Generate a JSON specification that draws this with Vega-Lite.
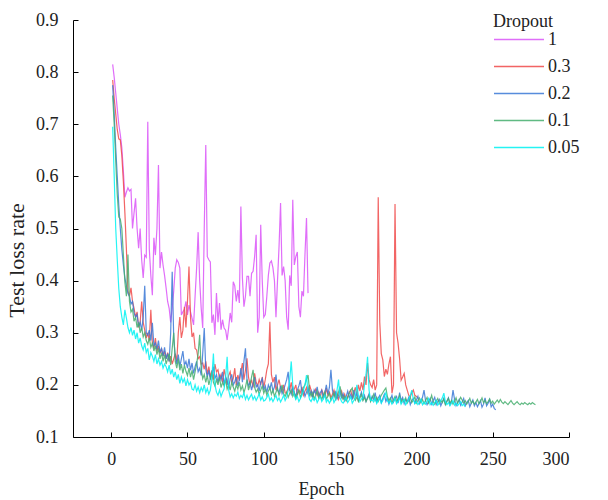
{
"$schema":"https://vega.github.io/schema/vega-lite/v6.json",
"width":496,"height":417,
"autosize":{"type":"none"},
"padding":{"left":73,"top":20,"right":39,"bottom":63},
"background":"white",
"config":{"font":"Times New Roman, Liberation Serif, serif","view":{"stroke":null},
"style":{"guide-label":{"font":"Times New Roman, Liberation Serif, serif"},"guide-title":{"font":"Times New Roman, Liberation Serif, serif"}},
"axis":{"grid":false,"domainColor":"#000","domainWidth":1,"tickColor":"#000","tickSize":-5,"labelFont":"Times New Roman, Liberation Serif, serif","labelFontSize":18,"labelColor":"#222","titleFont":"Times New Roman, Liberation Serif, serif","titleFontSize":18,"titleFontWeight":"normal","titleColor":"#222"}},
"datasets":{"p":[
{"d":"1","e":1,"v":0.815},{"d":"1","e":2,"v":0.79},{"d":"1","e":3,"v":0.76},{"d":"1","e":4,"v":0.73},{"d":"1","e":5,"v":0.70},{"d":"1","e":6,"v":0.68},{"d":"1","e":7,"v":0.655},{"d":"1","e":8,"v":0.61},{"d":"1","e":9,"v":0.56},{"d":"1","e":10,"v":0.57},{"d":"1","e":11,"v":0.578},{"d":"1","e":12,"v":0.572},{"d":"1","e":13,"v":0.575},{"d":"1","e":14,"v":0.50},{"d":"1","e":15,"v":0.53},{"d":"1","e":16,"v":0.558},{"d":"1","e":17,"v":0.50},{"d":"1","e":18,"v":0.462},{"d":"1","e":19,"v":0.50},{"d":"1","e":20,"v":0.44},{"d":"1","e":21,"v":0.405},{"d":"1","e":22,"v":0.449},{"d":"1","e":23,"v":0.445},{"d":"1","e":24,"v":0.705},{"d":"1","e":25,"v":0.46},{"d":"1","e":26,"v":0.41},{"d":"1","e":27,"v":0.372},{"d":"1","e":28,"v":0.482},{"d":"1","e":29,"v":0.449},{"d":"1","e":30,"v":0.50},{"d":"1","e":31,"v":0.622},{"d":"1","e":32,"v":0.424},{"d":"1","e":33,"v":0.455},{"d":"1","e":34,"v":0.43},{"d":"1","e":35,"v":0.41},{"d":"1","e":36,"v":0.386},{"d":"1","e":37,"v":0.36},{"d":"1","e":38,"v":0.347},{"d":"1","e":39,"v":0.32},{"d":"1","e":40,"v":0.347},{"d":"1","e":41,"v":0.38},{"d":"1","e":42,"v":0.424},{"d":"1","e":43,"v":0.44},{"d":"1","e":44,"v":0.435},{"d":"1","e":45,"v":0.424},{"d":"1","e":46,"v":0.334},{"d":"1","e":47,"v":0.34},{"d":"1","e":48,"v":0.345},{"d":"1","e":49,"v":0.36},{"d":"1","e":50,"v":0.334},{"d":"1","e":51,"v":0.353},{"d":"1","e":52,"v":0.34},{"d":"1","e":53,"v":0.328},{"d":"1","e":54,"v":0.315},{"d":"1","e":55,"v":0.37},{"d":"1","e":56,"v":0.424},{"d":"1","e":57,"v":0.493},{"d":"1","e":58,"v":0.40},{"d":"1","e":59,"v":0.347},{"d":"1","e":60,"v":0.309},{"d":"1","e":61,"v":0.50},{"d":"1","e":62,"v":0.66},{"d":"1","e":63,"v":0.446},{"d":"1","e":64,"v":0.44},{"d":"1","e":65,"v":0.436},{"d":"1","e":66,"v":0.319},{"d":"1","e":67,"v":0.335},{"d":"1","e":68,"v":0.296},{"d":"1","e":69,"v":0.376},{"d":"1","e":70,"v":0.32},{"d":"1","e":71,"v":0.357},{"d":"1","e":72,"v":0.306},{"d":"1","e":73,"v":0.325},{"d":"1","e":74,"v":0.309},{"d":"1","e":75,"v":0.305},{"d":"1","e":76,"v":0.286},{"d":"1","e":77,"v":0.31},{"d":"1","e":78,"v":0.338},{"d":"1","e":79,"v":0.32},{"d":"1","e":80,"v":0.398},{"d":"1","e":81,"v":0.39},{"d":"1","e":82,"v":0.36},{"d":"1","e":83,"v":0.382},{"d":"1","e":84,"v":0.357},{"d":"1","e":85,"v":0.542},{"d":"1","e":86,"v":0.405},{"d":"1","e":87,"v":0.35},{"d":"1","e":88,"v":0.37},{"d":"1","e":89,"v":0.408},{"d":"1","e":90,"v":0.408},{"d":"1","e":91,"v":0.37},{"d":"1","e":92,"v":0.414},{"d":"1","e":93,"v":0.418},{"d":"1","e":94,"v":0.446},{"d":"1","e":95,"v":0.488},{"d":"1","e":96,"v":0.30},{"d":"1","e":97,"v":0.33},{"d":"1","e":98,"v":0.507},{"d":"1","e":99,"v":0.40},{"d":"1","e":100,"v":0.33},{"d":"1","e":101,"v":0.335},{"d":"1","e":102,"v":0.37},{"d":"1","e":103,"v":0.41},{"d":"1","e":104,"v":0.434},{"d":"1","e":105,"v":0.438},{"d":"1","e":106,"v":0.425},{"d":"1","e":107,"v":0.40},{"d":"1","e":108,"v":0.33},{"d":"1","e":109,"v":0.40},{"d":"1","e":110,"v":0.465},{"d":"1","e":111,"v":0.549},{"d":"1","e":112,"v":0.41},{"d":"1","e":113,"v":0.427},{"d":"1","e":114,"v":0.40},{"d":"1","e":115,"v":0.33},{"d":"1","e":116,"v":0.306},{"d":"1","e":117,"v":0.41},{"d":"1","e":118,"v":0.39},{"d":"1","e":119,"v":0.555},{"d":"1","e":120,"v":0.43},{"d":"1","e":121,"v":0.446},{"d":"1","e":122,"v":0.455},{"d":"1","e":123,"v":0.35},{"d":"1","e":124,"v":0.33},{"d":"1","e":125,"v":0.38},{"d":"1","e":126,"v":0.37},{"d":"1","e":127,"v":0.45},{"d":"1","e":128,"v":0.52},{"d":"1","e":129,"v":0.376},
{"d":"0.3","e":1,"v":0.785},{"d":"0.3","e":2,"v":0.75},{"d":"0.3","e":3,"v":0.72},{"d":"0.3","e":4,"v":0.69},{"d":"0.3","e":5,"v":0.672},{"d":"0.3","e":6,"v":0.67},{"d":"0.3","e":7,"v":0.64},{"d":"0.3","e":8,"v":0.59},{"d":"0.3","e":9,"v":0.53},{"d":"0.3","e":10,"v":0.46},{"d":"0.3","e":11,"v":0.38},{"d":"0.3","e":12,"v":0.37},{"d":"0.3","e":13,"v":0.386},{"d":"0.3","e":14,"v":0.36},{"d":"0.3","e":15,"v":0.347},{"d":"0.3","e":16,"v":0.33},{"d":"0.3","e":17,"v":0.34},{"d":"0.3","e":18,"v":0.31},{"d":"0.3","e":19,"v":0.32},{"d":"0.3","e":20,"v":0.36},{"d":"0.3","e":21,"v":0.32},{"d":"0.3","e":22,"v":0.305},{"d":"0.3","e":23,"v":0.29},{"d":"0.3","e":24,"v":0.30},{"d":"0.3","e":25,"v":0.285},{"d":"0.3","e":26,"v":0.344},{"d":"0.3","e":27,"v":0.28},{"d":"0.3","e":28,"v":0.27},{"d":"0.3","e":29,"v":0.29},{"d":"0.3","e":30,"v":0.265},{"d":"0.3","e":31,"v":0.275},{"d":"0.3","e":32,"v":0.26},{"d":"0.3","e":33,"v":0.27},{"d":"0.3","e":34,"v":0.255},{"d":"0.3","e":35,"v":0.265},{"d":"0.3","e":36,"v":0.25},{"d":"0.3","e":37,"v":0.262},{"d":"0.3","e":38,"v":0.245},{"d":"0.3","e":39,"v":0.255},{"d":"0.3","e":40,"v":0.24},{"d":"0.3","e":41,"v":0.25},{"d":"0.3","e":42,"v":0.26},{"d":"0.3","e":43,"v":0.245},{"d":"0.3","e":44,"v":0.30},{"d":"0.3","e":45,"v":0.33},{"d":"0.3","e":46,"v":0.29},{"d":"0.3","e":47,"v":0.305},{"d":"0.3","e":48,"v":0.35},{"d":"0.3","e":49,"v":0.31},{"d":"0.3","e":50,"v":0.36},{"d":"0.3","e":51,"v":0.427},{"d":"0.3","e":52,"v":0.33},{"d":"0.3","e":53,"v":0.292},{"d":"0.3","e":54,"v":0.30},{"d":"0.3","e":55,"v":0.27},{"d":"0.3","e":56,"v":0.267},{"d":"0.3","e":57,"v":0.25},{"d":"0.3","e":58,"v":0.254},{"d":"0.3","e":59,"v":0.24},{"d":"0.3","e":60,"v":0.242},{"d":"0.3","e":61,"v":0.23},{"d":"0.3","e":62,"v":0.245},{"d":"0.3","e":63,"v":0.22},{"d":"0.3","e":64,"v":0.235},{"d":"0.3","e":65,"v":0.215},{"d":"0.3","e":66,"v":0.228},{"d":"0.3","e":67,"v":0.21},{"d":"0.3","e":68,"v":0.24},{"d":"0.3","e":69,"v":0.225},{"d":"0.3","e":70,"v":0.229},{"d":"0.3","e":71,"v":0.212},{"d":"0.3","e":72,"v":0.22},{"d":"0.3","e":73,"v":0.205},{"d":"0.3","e":74,"v":0.23},{"d":"0.3","e":75,"v":0.215},{"d":"0.3","e":76,"v":0.2},{"d":"0.3","e":77,"v":0.218},{"d":"0.3","e":78,"v":0.225},{"d":"0.3","e":79,"v":0.205},{"d":"0.3","e":80,"v":0.212},{"d":"0.3","e":81,"v":0.232},{"d":"0.3","e":82,"v":0.2},{"d":"0.3","e":83,"v":0.219},{"d":"0.3","e":84,"v":0.208},{"d":"0.3","e":85,"v":0.225},{"d":"0.3","e":86,"v":0.242},{"d":"0.3","e":87,"v":0.21},{"d":"0.3","e":88,"v":0.228},{"d":"0.3","e":89,"v":0.251},{"d":"0.3","e":90,"v":0.215},{"d":"0.3","e":91,"v":0.2},{"d":"0.3","e":92,"v":0.21},{"d":"0.3","e":93,"v":0.195},{"d":"0.3","e":94,"v":0.222},{"d":"0.3","e":95,"v":0.205},{"d":"0.3","e":96,"v":0.198},{"d":"0.3","e":97,"v":0.21},{"d":"0.3","e":98,"v":0.2},{"d":"0.3","e":99,"v":0.215},{"d":"0.3","e":100,"v":0.195},{"d":"0.3","e":101,"v":0.21},{"d":"0.3","e":102,"v":0.229},{"d":"0.3","e":103,"v":0.24},{"d":"0.3","e":104,"v":0.321},{"d":"0.3","e":105,"v":0.22},{"d":"0.3","e":106,"v":0.205},{"d":"0.3","e":107,"v":0.215},{"d":"0.3","e":108,"v":0.19},{"d":"0.3","e":109,"v":0.2},{"d":"0.3","e":110,"v":0.21},{"d":"0.3","e":111,"v":0.195},{"d":"0.3","e":112,"v":0.188},{"d":"0.3","e":113,"v":0.2},{"d":"0.3","e":114,"v":0.185},{"d":"0.3","e":115,"v":0.184},{"d":"0.3","e":116,"v":0.195},{"d":"0.3","e":117,"v":0.19},{"d":"0.3","e":118,"v":0.205},{"d":"0.3","e":119,"v":0.185},{"d":"0.3","e":120,"v":0.192},{"d":"0.3","e":121,"v":0.2},{"d":"0.3","e":122,"v":0.18},{"d":"0.3","e":123,"v":0.19},{"d":"0.3","e":124,"v":0.185},{"d":"0.3","e":125,"v":0.196},{"d":"0.3","e":126,"v":0.18},{"d":"0.3","e":127,"v":0.188},{"d":"0.3","e":128,"v":0.195},{"d":"0.3","e":129,"v":0.182},{"d":"0.3","e":130,"v":0.2},{"d":"0.3","e":131,"v":0.19},{"d":"0.3","e":132,"v":0.178},{"d":"0.3","e":133,"v":0.187},{"d":"0.3","e":134,"v":0.192},{"d":"0.3","e":135,"v":0.18},{"d":"0.3","e":136,"v":0.186},{"d":"0.3","e":137,"v":0.175},{"d":"0.3","e":138,"v":0.19},{"d":"0.3","e":139,"v":0.183},{"d":"0.3","e":140,"v":0.178},{"d":"0.3","e":141,"v":0.194},{"d":"0.3","e":142,"v":0.18},{"d":"0.3","e":143,"v":0.186},{"d":"0.3","e":144,"v":0.175},{"d":"0.3","e":145,"v":0.182},{"d":"0.3","e":146,"v":0.19},{"d":"0.3","e":147,"v":0.177},{"d":"0.3","e":148,"v":0.185},{"d":"0.3","e":149,"v":0.172},{"d":"0.3","e":150,"v":0.18},{"d":"0.3","e":151,"v":0.188},{"d":"0.3","e":152,"v":0.175},{"d":"0.3","e":153,"v":0.182},{"d":"0.3","e":154,"v":0.17},{"d":"0.3","e":155,"v":0.178},{"d":"0.3","e":156,"v":0.186},{"d":"0.3","e":157,"v":0.19},{"d":"0.3","e":158,"v":0.176},{"d":"0.3","e":159,"v":0.185},{"d":"0.3","e":160,"v":0.195},{"d":"0.3","e":161,"v":0.18},{"d":"0.3","e":162,"v":0.2},{"d":"0.3","e":163,"v":0.188},{"d":"0.3","e":164,"v":0.205},{"d":"0.3","e":165,"v":0.19},{"d":"0.3","e":166,"v":0.216},{"d":"0.3","e":167,"v":0.2},{"d":"0.3","e":168,"v":0.242},{"d":"0.3","e":169,"v":0.21},{"d":"0.3","e":170,"v":0.2},{"d":"0.3","e":171,"v":0.195},{"d":"0.3","e":172,"v":0.21},{"d":"0.3","e":173,"v":0.19},{"d":"0.3","e":174,"v":0.2},{"d":"0.3","e":175,"v":0.56},{"d":"0.3","e":176,"v":0.32},{"d":"0.3","e":177,"v":0.26},{"d":"0.3","e":178,"v":0.248},{"d":"0.3","e":179,"v":0.216},{"d":"0.3","e":180,"v":0.23},{"d":"0.3","e":181,"v":0.22},{"d":"0.3","e":182,"v":0.24},{"d":"0.3","e":183,"v":0.254},{"d":"0.3","e":184,"v":0.184},{"d":"0.3","e":185,"v":0.2},{"d":"0.3","e":186,"v":0.547},{"d":"0.3","e":187,"v":0.3},{"d":"0.3","e":188,"v":0.28},{"d":"0.3","e":189,"v":0.25},{"d":"0.3","e":190,"v":0.209},{"d":"0.3","e":191,"v":0.215},{"d":"0.3","e":192,"v":0.222},{"d":"0.3","e":193,"v":0.2},{"d":"0.3","e":194,"v":0.19},{"d":"0.3","e":195,"v":0.18},{"d":"0.3","e":196,"v":0.177},{"d":"0.3","e":197,"v":0.185},{"d":"0.3","e":198,"v":0.19},{"d":"0.3","e":199,"v":0.18},{"d":"0.3","e":200,"v":0.178},{"d":"0.3","e":201,"v":0.175},
{"d":"0.2","e":1,"v":0.775},{"d":"0.2","e":2,"v":0.72},{"d":"0.2","e":3,"v":0.655},{"d":"0.2","e":4,"v":0.6},{"d":"0.2","e":5,"v":0.545},{"d":"0.2","e":6,"v":0.5},{"d":"0.2","e":7,"v":0.46},{"d":"0.2","e":8,"v":0.43},{"d":"0.2","e":9,"v":0.405},{"d":"0.2","e":10,"v":0.39},{"d":"0.2","e":11,"v":0.375},{"d":"0.2","e":12,"v":0.37},{"d":"0.2","e":13,"v":0.355},{"d":"0.2","e":14,"v":0.36},{"d":"0.2","e":15,"v":0.338},{"d":"0.2","e":16,"v":0.33},{"d":"0.2","e":17,"v":0.335},{"d":"0.2","e":18,"v":0.312},{"d":"0.2","e":19,"v":0.32},{"d":"0.2","e":20,"v":0.305},{"d":"0.2","e":21,"v":0.33},{"d":"0.2","e":22,"v":0.39},{"d":"0.2","e":23,"v":0.3},{"d":"0.2","e":24,"v":0.295},{"d":"0.2","e":25,"v":0.305},{"d":"0.2","e":26,"v":0.285},{"d":"0.2","e":27,"v":0.319},{"d":"0.2","e":28,"v":0.275},{"d":"0.2","e":29,"v":0.28},{"d":"0.2","e":30,"v":0.268},{"d":"0.2","e":31,"v":0.285},{"d":"0.2","e":32,"v":0.262},{"d":"0.2","e":33,"v":0.27},{"d":"0.2","e":34,"v":0.255},{"d":"0.2","e":35,"v":0.272},{"d":"0.2","e":36,"v":0.25},{"d":"0.2","e":37,"v":0.26},{"d":"0.2","e":38,"v":0.245},{"d":"0.2","e":39,"v":0.3},{"d":"0.2","e":40,"v":0.417},{"d":"0.2","e":41,"v":0.29},{"d":"0.2","e":42,"v":0.255},{"d":"0.2","e":43,"v":0.24},{"d":"0.2","e":44,"v":0.258},{"d":"0.2","e":45,"v":0.235},{"d":"0.2","e":46,"v":0.25},{"d":"0.2","e":47,"v":0.265},{"d":"0.2","e":48,"v":0.238},{"d":"0.2","e":49,"v":0.245},{"d":"0.2","e":50,"v":0.232},{"d":"0.2","e":51,"v":0.25},{"d":"0.2","e":52,"v":0.228},{"d":"0.2","e":53,"v":0.242},{"d":"0.2","e":54,"v":0.222},{"d":"0.2","e":55,"v":0.235},{"d":"0.2","e":56,"v":0.245},{"d":"0.2","e":57,"v":0.225},{"d":"0.2","e":58,"v":0.232},{"d":"0.2","e":59,"v":0.218},{"d":"0.2","e":60,"v":0.26},{"d":"0.2","e":61,"v":0.309},{"d":"0.2","e":62,"v":0.23},{"d":"0.2","e":63,"v":0.215},{"d":"0.2","e":64,"v":0.228},{"d":"0.2","e":65,"v":0.21},{"d":"0.2","e":66,"v":0.222},{"d":"0.2","e":67,"v":0.235},{"d":"0.2","e":68,"v":0.212},{"d":"0.2","e":69,"v":0.22},{"d":"0.2","e":70,"v":0.205},{"d":"0.2","e":71,"v":0.218},{"d":"0.2","e":72,"v":0.21},{"d":"0.2","e":73,"v":0.225},{"d":"0.2","e":74,"v":0.2},{"d":"0.2","e":75,"v":0.215},{"d":"0.2","e":76,"v":0.208},{"d":"0.2","e":77,"v":0.195},{"d":"0.2","e":78,"v":0.212},{"d":"0.2","e":79,"v":0.22},{"d":"0.2","e":80,"v":0.2},{"d":"0.2","e":81,"v":0.206},{"d":"0.2","e":82,"v":0.215},{"d":"0.2","e":83,"v":0.198},{"d":"0.2","e":84,"v":0.21},{"d":"0.2","e":85,"v":0.232},{"d":"0.2","e":86,"v":0.205},{"d":"0.2","e":87,"v":0.245},{"d":"0.2","e":88,"v":0.27},{"d":"0.2","e":89,"v":0.21},{"d":"0.2","e":90,"v":0.198},{"d":"0.2","e":91,"v":0.205},{"d":"0.2","e":92,"v":0.19},{"d":"0.2","e":93,"v":0.202},{"d":"0.2","e":94,"v":0.215},{"d":"0.2","e":95,"v":0.196},{"d":"0.2","e":96,"v":0.2},{"d":"0.2","e":97,"v":0.188},{"d":"0.2","e":98,"v":0.205},{"d":"0.2","e":99,"v":0.212},{"d":"0.2","e":100,"v":0.19},{"d":"0.2","e":101,"v":0.198},{"d":"0.2","e":102,"v":0.185},{"d":"0.2","e":103,"v":0.2},{"d":"0.2","e":104,"v":0.192},{"d":"0.2","e":105,"v":0.205},{"d":"0.2","e":106,"v":0.188},{"d":"0.2","e":107,"v":0.196},{"d":"0.2","e":108,"v":0.22},{"d":"0.2","e":109,"v":0.19},{"d":"0.2","e":110,"v":0.185},{"d":"0.2","e":111,"v":0.198},{"d":"0.2","e":112,"v":0.183},{"d":"0.2","e":113,"v":0.19},{"d":"0.2","e":114,"v":0.2},{"d":"0.2","e":115,"v":0.21},{"d":"0.2","e":116,"v":0.225},{"d":"0.2","e":117,"v":0.19},{"d":"0.2","e":118,"v":0.182},{"d":"0.2","e":119,"v":0.195},{"d":"0.2","e":120,"v":0.185},{"d":"0.2","e":121,"v":0.178},{"d":"0.2","e":122,"v":0.19},{"d":"0.2","e":123,"v":0.198},{"d":"0.2","e":124,"v":0.209},{"d":"0.2","e":125,"v":0.185},{"d":"0.2","e":126,"v":0.19},{"d":"0.2","e":127,"v":0.178},{"d":"0.2","e":128,"v":0.186},{"d":"0.2","e":129,"v":0.194},{"d":"0.2","e":130,"v":0.18},{"d":"0.2","e":131,"v":0.188},{"d":"0.2","e":132,"v":0.176},{"d":"0.2","e":133,"v":0.19},{"d":"0.2","e":134,"v":0.183},{"d":"0.2","e":135,"v":0.196},{"d":"0.2","e":136,"v":0.178},{"d":"0.2","e":137,"v":0.185},{"d":"0.2","e":138,"v":0.19},{"d":"0.2","e":139,"v":0.175},{"d":"0.2","e":140,"v":0.184},{"d":"0.2","e":141,"v":0.2},{"d":"0.2","e":142,"v":0.182},{"d":"0.2","e":143,"v":0.195},{"d":"0.2","e":144,"v":0.229},{"d":"0.2","e":145,"v":0.19},{"d":"0.2","e":146,"v":0.178},{"d":"0.2","e":147,"v":0.186},{"d":"0.2","e":148,"v":0.173},{"d":"0.2","e":149,"v":0.18},{"d":"0.2","e":150,"v":0.19},{"d":"0.2","e":151,"v":0.176},{"d":"0.2","e":152,"v":0.183},{"d":"0.2","e":153,"v":0.17},{"d":"0.2","e":154,"v":0.178},{"d":"0.2","e":155,"v":0.188},{"d":"0.2","e":156,"v":0.175},{"d":"0.2","e":157,"v":0.182},{"d":"0.2","e":158,"v":0.172},{"d":"0.2","e":159,"v":0.19},{"d":"0.2","e":160,"v":0.176},{"d":"0.2","e":161,"v":0.184},{"d":"0.2","e":162,"v":0.17},{"d":"0.2","e":163,"v":0.178},{"d":"0.2","e":164,"v":0.186},{"d":"0.2","e":165,"v":0.172},{"d":"0.2","e":166,"v":0.18},{"d":"0.2","e":167,"v":0.168},{"d":"0.2","e":168,"v":0.176},{"d":"0.2","e":169,"v":0.183},{"d":"0.2","e":170,"v":0.17},{"d":"0.2","e":171,"v":0.178},{"d":"0.2","e":172,"v":0.172},{"d":"0.2","e":173,"v":0.185},{"d":"0.2","e":174,"v":0.168},{"d":"0.2","e":175,"v":0.175},{"d":"0.2","e":176,"v":0.18},{"d":"0.2","e":177,"v":0.166},{"d":"0.2","e":178,"v":0.174},{"d":"0.2","e":179,"v":0.182},{"d":"0.2","e":180,"v":0.168},{"d":"0.2","e":181,"v":0.175},{"d":"0.2","e":182,"v":0.163},{"d":"0.2","e":183,"v":0.172},{"d":"0.2","e":184,"v":0.18},{"d":"0.2","e":185,"v":0.167},{"d":"0.2","e":186,"v":0.174},{"d":"0.2","e":187,"v":0.178},{"d":"0.2","e":188,"v":0.165},{"d":"0.2","e":189,"v":0.185},{"d":"0.2","e":190,"v":0.17},{"d":"0.2","e":191,"v":0.176},{"d":"0.2","e":192,"v":0.164},{"d":"0.2","e":193,"v":0.172},{"d":"0.2","e":194,"v":0.168},{"d":"0.2","e":195,"v":0.176},{"d":"0.2","e":196,"v":0.162},{"d":"0.2","e":197,"v":0.17},{"d":"0.2","e":198,"v":0.174},{"d":"0.2","e":199,"v":0.165},{"d":"0.2","e":200,"v":0.171},{"d":"0.2","e":201,"v":0.178},{"d":"0.2","e":202,"v":0.164},{"d":"0.2","e":203,"v":0.17},{"d":"0.2","e":204,"v":0.176},{"d":"0.2","e":205,"v":0.19},{"d":"0.2","e":206,"v":0.17},{"d":"0.2","e":207,"v":0.162},{"d":"0.2","e":208,"v":0.168},{"d":"0.2","e":209,"v":0.174},{"d":"0.2","e":210,"v":0.163},{"d":"0.2","e":211,"v":0.17},{"d":"0.2","e":212,"v":0.176},{"d":"0.2","e":213,"v":0.162},{"d":"0.2","e":214,"v":0.168},{"d":"0.2","e":215,"v":0.172},{"d":"0.2","e":216,"v":0.16},{"d":"0.2","e":217,"v":0.167},{"d":"0.2","e":218,"v":0.174},{"d":"0.2","e":219,"v":0.163},{"d":"0.2","e":220,"v":0.169},{"d":"0.2","e":221,"v":0.175},{"d":"0.2","e":222,"v":0.162},{"d":"0.2","e":223,"v":0.168},{"d":"0.2","e":224,"v":0.19},{"d":"0.2","e":225,"v":0.172},{"d":"0.2","e":226,"v":0.16},{"d":"0.2","e":227,"v":0.166},{"d":"0.2","e":228,"v":0.172},{"d":"0.2","e":229,"v":0.161},{"d":"0.2","e":230,"v":0.167},{"d":"0.2","e":231,"v":0.174},{"d":"0.2","e":232,"v":0.16},{"d":"0.2","e":233,"v":0.166},{"d":"0.2","e":234,"v":0.17},{"d":"0.2","e":235,"v":0.158},{"d":"0.2","e":236,"v":0.165},{"d":"0.2","e":237,"v":0.171},{"d":"0.2","e":238,"v":0.16},{"d":"0.2","e":239,"v":0.166},{"d":"0.2","e":240,"v":0.158},{"d":"0.2","e":241,"v":0.164},{"d":"0.2","e":242,"v":0.17},{"d":"0.2","e":243,"v":0.157},{"d":"0.2","e":244,"v":0.163},{"d":"0.2","e":245,"v":0.175},{"d":"0.2","e":246,"v":0.16},{"d":"0.2","e":247,"v":0.165},{"d":"0.2","e":248,"v":0.172},{"d":"0.2","e":249,"v":0.158},{"d":"0.2","e":250,"v":0.163},{"d":"0.2","e":251,"v":0.155},{"d":"0.2","e":252,"v":0.152},
{"d":"0.1","e":1,"v":0.755},{"d":"0.1","e":2,"v":0.7},{"d":"0.1","e":3,"v":0.63},{"d":"0.1","e":4,"v":0.565},{"d":"0.1","e":5,"v":0.522},{"d":"0.1","e":6,"v":0.518},{"d":"0.1","e":7,"v":0.5},{"d":"0.1","e":8,"v":0.45},{"d":"0.1","e":9,"v":0.397},{"d":"0.1","e":10,"v":0.37},{"d":"0.1","e":11,"v":0.45},{"d":"0.1","e":12,"v":0.36},{"d":"0.1","e":13,"v":0.34},{"d":"0.1","e":14,"v":0.345},{"d":"0.1","e":15,"v":0.322},{"d":"0.1","e":16,"v":0.33},{"d":"0.1","e":17,"v":0.31},{"d":"0.1","e":18,"v":0.32},{"d":"0.1","e":19,"v":0.3},{"d":"0.1","e":20,"v":0.31},{"d":"0.1","e":21,"v":0.292},{"d":"0.1","e":22,"v":0.3},{"d":"0.1","e":23,"v":0.285},{"d":"0.1","e":24,"v":0.278},{"d":"0.1","e":25,"v":0.29},{"d":"0.1","e":26,"v":0.272},{"d":"0.1","e":27,"v":0.28},{"d":"0.1","e":28,"v":0.265},{"d":"0.1","e":29,"v":0.275},{"d":"0.1","e":30,"v":0.258},{"d":"0.1","e":31,"v":0.27},{"d":"0.1","e":32,"v":0.25},{"d":"0.1","e":33,"v":0.262},{"d":"0.1","e":34,"v":0.245},{"d":"0.1","e":35,"v":0.258},{"d":"0.1","e":36,"v":0.24},{"d":"0.1","e":37,"v":0.25},{"d":"0.1","e":38,"v":0.26},{"d":"0.1","e":39,"v":0.238},{"d":"0.1","e":40,"v":0.27},{"d":"0.1","e":41,"v":0.3},{"d":"0.1","e":42,"v":0.245},{"d":"0.1","e":43,"v":0.232},{"d":"0.1","e":44,"v":0.25},{"d":"0.1","e":45,"v":0.228},{"d":"0.1","e":46,"v":0.24},{"d":"0.1","e":47,"v":0.222},{"d":"0.1","e":48,"v":0.238},{"d":"0.1","e":49,"v":0.226},{"d":"0.1","e":50,"v":0.218},{"d":"0.1","e":51,"v":0.232},{"d":"0.1","e":52,"v":0.215},{"d":"0.1","e":53,"v":0.228},{"d":"0.1","e":54,"v":0.21},{"d":"0.1","e":55,"v":0.225},{"d":"0.1","e":56,"v":0.24},{"d":"0.1","e":57,"v":0.26},{"d":"0.1","e":58,"v":0.296},{"d":"0.1","e":59,"v":0.23},{"d":"0.1","e":60,"v":0.212},{"d":"0.1","e":61,"v":0.22},{"d":"0.1","e":62,"v":0.205},{"d":"0.1","e":63,"v":0.218},{"d":"0.1","e":64,"v":0.2},{"d":"0.1","e":65,"v":0.212},{"d":"0.1","e":66,"v":0.225},{"d":"0.1","e":67,"v":0.205},{"d":"0.1","e":68,"v":0.198},{"d":"0.1","e":69,"v":0.21},{"d":"0.1","e":70,"v":0.2},{"d":"0.1","e":71,"v":0.215},{"d":"0.1","e":72,"v":0.195},{"d":"0.1","e":73,"v":0.205},{"d":"0.1","e":74,"v":0.198},{"d":"0.1","e":75,"v":0.21},{"d":"0.1","e":76,"v":0.192},{"d":"0.1","e":77,"v":0.2},{"d":"0.1","e":78,"v":0.19},{"d":"0.1","e":79,"v":0.205},{"d":"0.1","e":80,"v":0.196},{"d":"0.1","e":81,"v":0.188},{"d":"0.1","e":82,"v":0.2},{"d":"0.1","e":83,"v":0.192},{"d":"0.1","e":84,"v":0.205},{"d":"0.1","e":85,"v":0.19},{"d":"0.1","e":86,"v":0.198},{"d":"0.1","e":87,"v":0.185},{"d":"0.1","e":88,"v":0.195},{"d":"0.1","e":89,"v":0.21},{"d":"0.1","e":90,"v":0.19},{"d":"0.1","e":91,"v":0.2},{"d":"0.1","e":92,"v":0.215},{"d":"0.1","e":93,"v":0.229},{"d":"0.1","e":94,"v":0.195},{"d":"0.1","e":95,"v":0.186},{"d":"0.1","e":96,"v":0.192},{"d":"0.1","e":97,"v":0.182},{"d":"0.1","e":98,"v":0.19},{"d":"0.1","e":99,"v":0.198},{"d":"0.1","e":100,"v":0.184},{"d":"0.1","e":101,"v":0.192},{"d":"0.1","e":102,"v":0.18},{"d":"0.1","e":103,"v":0.188},{"d":"0.1","e":104,"v":0.195},{"d":"0.1","e":105,"v":0.182},{"d":"0.1","e":106,"v":0.19},{"d":"0.1","e":107,"v":0.178},{"d":"0.1","e":108,"v":0.186},{"d":"0.1","e":109,"v":0.194},{"d":"0.1","e":110,"v":0.18},{"d":"0.1","e":111,"v":0.188},{"d":"0.1","e":112,"v":0.2},{"d":"0.1","e":113,"v":0.183},{"d":"0.1","e":114,"v":0.178},{"d":"0.1","e":115,"v":0.186},{"d":"0.1","e":116,"v":0.176},{"d":"0.1","e":117,"v":0.184},{"d":"0.1","e":118,"v":0.19},{"d":"0.1","e":119,"v":0.178},{"d":"0.1","e":120,"v":0.185},{"d":"0.1","e":121,"v":0.174},{"d":"0.1","e":122,"v":0.182},{"d":"0.1","e":123,"v":0.19},{"d":"0.1","e":124,"v":0.176},{"d":"0.1","e":125,"v":0.183},{"d":"0.1","e":126,"v":0.195},{"d":"0.1","e":127,"v":0.2},{"d":"0.1","e":128,"v":0.21},{"d":"0.1","e":129,"v":0.219},{"d":"0.1","e":130,"v":0.19},{"d":"0.1","e":131,"v":0.178},{"d":"0.1","e":132,"v":0.185},{"d":"0.1","e":133,"v":0.173},{"d":"0.1","e":134,"v":0.18},{"d":"0.1","e":135,"v":0.188},{"d":"0.1","e":136,"v":0.174},{"d":"0.1","e":137,"v":0.18},{"d":"0.1","e":138,"v":0.172},{"d":"0.1","e":139,"v":0.18},{"d":"0.1","e":140,"v":0.187},{"d":"0.1","e":141,"v":0.173},{"d":"0.1","e":142,"v":0.178},{"d":"0.1","e":143,"v":0.184},{"d":"0.1","e":144,"v":0.17},{"d":"0.1","e":145,"v":0.177},{"d":"0.1","e":146,"v":0.185},{"d":"0.1","e":147,"v":0.172},{"d":"0.1","e":148,"v":0.178},{"d":"0.1","e":149,"v":0.186},{"d":"0.1","e":150,"v":0.197},{"d":"0.1","e":151,"v":0.18},{"d":"0.1","e":152,"v":0.172},{"d":"0.1","e":153,"v":0.178},{"d":"0.1","e":154,"v":0.17},{"d":"0.1","e":155,"v":0.176},{"d":"0.1","e":156,"v":0.183},{"d":"0.1","e":157,"v":0.19},{"d":"0.1","e":158,"v":0.194},{"d":"0.1","e":159,"v":0.175},{"d":"0.1","e":160,"v":0.17},{"d":"0.1","e":161,"v":0.177},{"d":"0.1","e":162,"v":0.168},{"d":"0.1","e":163,"v":0.175},{"d":"0.1","e":164,"v":0.182},{"d":"0.1","e":165,"v":0.17},{"d":"0.1","e":166,"v":0.176},{"d":"0.1","e":167,"v":0.168},{"d":"0.1","e":168,"v":0.174},{"d":"0.1","e":169,"v":0.18},{"d":"0.1","e":170,"v":0.168},{"d":"0.1","e":171,"v":0.175},{"d":"0.1","e":172,"v":0.182},{"d":"0.1","e":173,"v":0.17},{"d":"0.1","e":174,"v":0.176},{"d":"0.1","e":175,"v":0.168},{"d":"0.1","e":176,"v":0.174},{"d":"0.1","e":177,"v":0.18},{"d":"0.1","e":178,"v":0.185},{"d":"0.1","e":179,"v":0.19},{"d":"0.1","e":180,"v":0.194},{"d":"0.1","e":181,"v":0.178},{"d":"0.1","e":182,"v":0.17},{"d":"0.1","e":183,"v":0.175},{"d":"0.1","e":184,"v":0.166},{"d":"0.1","e":185,"v":0.172},{"d":"0.1","e":186,"v":0.178},{"d":"0.1","e":187,"v":0.168},{"d":"0.1","e":188,"v":0.173},{"d":"0.1","e":189,"v":0.18},{"d":"0.1","e":190,"v":0.166},{"d":"0.1","e":191,"v":0.172},{"d":"0.1","e":192,"v":0.168},{"d":"0.1","e":193,"v":0.175},{"d":"0.1","e":194,"v":0.165},{"d":"0.1","e":195,"v":0.17},{"d":"0.1","e":196,"v":0.176},{"d":"0.1","e":197,"v":0.166},{"d":"0.1","e":198,"v":0.171},{"d":"0.1","e":199,"v":0.177},{"d":"0.1","e":200,"v":0.165},{"d":"0.1","e":201,"v":0.17},{"d":"0.1","e":202,"v":0.175},{"d":"0.1","e":203,"v":0.166},{"d":"0.1","e":204,"v":0.172},{"d":"0.1","e":205,"v":0.164},{"d":"0.1","e":206,"v":0.17},{"d":"0.1","e":207,"v":0.176},{"d":"0.1","e":208,"v":0.165},{"d":"0.1","e":209,"v":0.17},{"d":"0.1","e":210,"v":0.18},{"d":"0.1","e":211,"v":0.168},{"d":"0.1","e":212,"v":0.163},{"d":"0.1","e":213,"v":0.169},{"d":"0.1","e":214,"v":0.174},{"d":"0.1","e":215,"v":0.164},{"d":"0.1","e":216,"v":0.17},{"d":"0.1","e":217,"v":0.166},{"d":"0.1","e":218,"v":0.173},{"d":"0.1","e":219,"v":0.162},{"d":"0.1","e":220,"v":0.168},{"d":"0.1","e":221,"v":0.174},{"d":"0.1","e":222,"v":0.165},{"d":"0.1","e":223,"v":0.17},{"d":"0.1","e":224,"v":0.163},{"d":"0.1","e":225,"v":0.168},{"d":"0.1","e":226,"v":0.175},{"d":"0.1","e":227,"v":0.165},{"d":"0.1","e":228,"v":0.17},{"d":"0.1","e":229,"v":0.176},{"d":"0.1","e":230,"v":0.171},{"d":"0.1","e":231,"v":0.165},{"d":"0.1","e":232,"v":0.17},{"d":"0.1","e":233,"v":0.163},{"d":"0.1","e":234,"v":0.168},{"d":"0.1","e":235,"v":0.174},{"d":"0.1","e":236,"v":0.165},{"d":"0.1","e":237,"v":0.169},{"d":"0.1","e":238,"v":0.163},{"d":"0.1","e":239,"v":0.167},{"d":"0.1","e":240,"v":0.172},{"d":"0.1","e":241,"v":0.164},{"d":"0.1","e":242,"v":0.168},{"d":"0.1","e":243,"v":0.175},{"d":"0.1","e":244,"v":0.166},{"d":"0.1","e":245,"v":0.17},{"d":"0.1","e":246,"v":0.164},{"d":"0.1","e":247,"v":0.168},{"d":"0.1","e":248,"v":0.173},{"d":"0.1","e":249,"v":0.165},{"d":"0.1","e":250,"v":0.169},{"d":"0.1","e":251,"v":0.163},{"d":"0.1","e":252,"v":0.167},{"d":"0.1","e":253,"v":0.171},{"d":"0.1","e":254,"v":0.166},{"d":"0.1","e":255,"v":0.172},{"d":"0.1","e":256,"v":0.167},{"d":"0.1","e":257,"v":0.164},{"d":"0.1","e":258,"v":0.168},{"d":"0.1","e":259,"v":0.165},{"d":"0.1","e":260,"v":0.162},{"d":"0.1","e":261,"v":0.166},{"d":"0.1","e":262,"v":0.17},{"d":"0.1","e":263,"v":0.165},{"d":"0.1","e":264,"v":0.162},{"d":"0.1","e":265,"v":0.165},{"d":"0.1","e":266,"v":0.168},{"d":"0.1","e":267,"v":0.164},{"d":"0.1","e":268,"v":0.162},{"d":"0.1","e":269,"v":0.165},{"d":"0.1","e":270,"v":0.163},{"d":"0.1","e":271,"v":0.166},{"d":"0.1","e":272,"v":0.164},{"d":"0.1","e":273,"v":0.162},{"d":"0.1","e":274,"v":0.165},{"d":"0.1","e":275,"v":0.163},{"d":"0.1","e":276,"v":0.166},{"d":"0.1","e":277,"v":0.164},{"d":"0.1","e":278,"v":0.162},
{"d":"0.05","e":1,"v":0.695},{"d":"0.05","e":2,"v":0.6},{"d":"0.05","e":3,"v":0.5},{"d":"0.05","e":4,"v":0.44},{"d":"0.05","e":5,"v":0.385},{"d":"0.05","e":6,"v":0.35},{"d":"0.05","e":7,"v":0.33},{"d":"0.05","e":8,"v":0.315},{"d":"0.05","e":9,"v":0.344},{"d":"0.05","e":10,"v":0.328},{"d":"0.05","e":11,"v":0.31},{"d":"0.05","e":12,"v":0.3},{"d":"0.05","e":13,"v":0.31},{"d":"0.05","e":14,"v":0.295},{"d":"0.05","e":15,"v":0.305},{"d":"0.05","e":16,"v":0.288},{"d":"0.05","e":17,"v":0.3},{"d":"0.05","e":18,"v":0.28},{"d":"0.05","e":19,"v":0.29},{"d":"0.05","e":20,"v":0.275},{"d":"0.05","e":21,"v":0.267},{"d":"0.05","e":22,"v":0.28},{"d":"0.05","e":23,"v":0.262},{"d":"0.05","e":24,"v":0.27},{"d":"0.05","e":25,"v":0.248},{"d":"0.05","e":26,"v":0.262},{"d":"0.05","e":27,"v":0.255},{"d":"0.05","e":28,"v":0.245},{"d":"0.05","e":29,"v":0.258},{"d":"0.05","e":30,"v":0.24},{"d":"0.05","e":31,"v":0.25},{"d":"0.05","e":32,"v":0.238},{"d":"0.05","e":33,"v":0.245},{"d":"0.05","e":34,"v":0.232},{"d":"0.05","e":35,"v":0.24},{"d":"0.05","e":36,"v":0.235},{"d":"0.05","e":37,"v":0.225},{"d":"0.05","e":38,"v":0.238},{"d":"0.05","e":39,"v":0.22},{"d":"0.05","e":40,"v":0.23},{"d":"0.05","e":41,"v":0.215},{"d":"0.05","e":42,"v":0.225},{"d":"0.05","e":43,"v":0.21},{"d":"0.05","e":44,"v":0.22},{"d":"0.05","e":45,"v":0.203},{"d":"0.05","e":46,"v":0.215},{"d":"0.05","e":47,"v":0.205},{"d":"0.05","e":48,"v":0.212},{"d":"0.05","e":49,"v":0.198},{"d":"0.05","e":50,"v":0.21},{"d":"0.05","e":51,"v":0.2},{"d":"0.05","e":52,"v":0.205},{"d":"0.05","e":53,"v":0.192},{"d":"0.05","e":54,"v":0.19},{"d":"0.05","e":55,"v":0.2},{"d":"0.05","e":56,"v":0.188},{"d":"0.05","e":57,"v":0.196},{"d":"0.05","e":58,"v":0.185},{"d":"0.05","e":59,"v":0.195},{"d":"0.05","e":60,"v":0.188},{"d":"0.05","e":61,"v":0.2},{"d":"0.05","e":62,"v":0.185},{"d":"0.05","e":63,"v":0.193},{"d":"0.05","e":64,"v":0.182},{"d":"0.05","e":65,"v":0.19},{"d":"0.05","e":66,"v":0.215},{"d":"0.05","e":67,"v":0.26},{"d":"0.05","e":68,"v":0.2},{"d":"0.05","e":69,"v":0.186},{"d":"0.05","e":70,"v":0.18},{"d":"0.05","e":71,"v":0.19},{"d":"0.05","e":72,"v":0.178},{"d":"0.05","e":73,"v":0.186},{"d":"0.05","e":74,"v":0.192},{"d":"0.05","e":75,"v":0.215},{"d":"0.05","e":76,"v":0.254},{"d":"0.05","e":77,"v":0.19},{"d":"0.05","e":78,"v":0.177},{"d":"0.05","e":79,"v":0.183},{"d":"0.05","e":80,"v":0.175},{"d":"0.05","e":81,"v":0.182},{"d":"0.05","e":82,"v":0.178},{"d":"0.05","e":83,"v":0.186},{"d":"0.05","e":84,"v":0.174},{"d":"0.05","e":85,"v":0.18},{"d":"0.05","e":86,"v":0.176},{"d":"0.05","e":87,"v":0.185},{"d":"0.05","e":88,"v":0.172},{"d":"0.05","e":89,"v":0.18},{"d":"0.05","e":90,"v":0.171},{"d":"0.05","e":91,"v":0.177},{"d":"0.05","e":92,"v":0.182},{"d":"0.05","e":93,"v":0.172},{"d":"0.05","e":94,"v":0.178},{"d":"0.05","e":95,"v":0.17},{"d":"0.05","e":96,"v":0.176},{"d":"0.05","e":97,"v":0.183},{"d":"0.05","e":98,"v":0.171},{"d":"0.05","e":99,"v":0.177},{"d":"0.05","e":100,"v":0.169},{"d":"0.05","e":101,"v":0.171},{"d":"0.05","e":102,"v":0.176},{"d":"0.05","e":103,"v":0.182},{"d":"0.05","e":104,"v":0.17},{"d":"0.05","e":105,"v":0.175},{"d":"0.05","e":106,"v":0.168},{"d":"0.05","e":107,"v":0.174},{"d":"0.05","e":108,"v":0.18},{"d":"0.05","e":109,"v":0.17},{"d":"0.05","e":110,"v":0.175},{"d":"0.05","e":111,"v":0.167},{"d":"0.05","e":112,"v":0.173},{"d":"0.05","e":113,"v":0.18},{"d":"0.05","e":114,"v":0.17},{"d":"0.05","e":115,"v":0.176},{"d":"0.05","e":116,"v":0.19},{"d":"0.05","e":117,"v":0.21},{"d":"0.05","e":118,"v":0.245},{"d":"0.05","e":119,"v":0.2},{"d":"0.05","e":120,"v":0.18},{"d":"0.05","e":121,"v":0.172},{"d":"0.05","e":122,"v":0.178},{"d":"0.05","e":123,"v":0.168},{"d":"0.05","e":124,"v":0.174},{"d":"0.05","e":125,"v":0.18},{"d":"0.05","e":126,"v":0.19},{"d":"0.05","e":127,"v":0.2},{"d":"0.05","e":128,"v":0.219},{"d":"0.05","e":129,"v":0.185},{"d":"0.05","e":130,"v":0.172},{"d":"0.05","e":131,"v":0.168},{"d":"0.05","e":132,"v":0.175},{"d":"0.05","e":133,"v":0.17},{"d":"0.05","e":134,"v":0.176},{"d":"0.05","e":135,"v":0.166},{"d":"0.05","e":136,"v":0.172},{"d":"0.05","e":137,"v":0.178},{"d":"0.05","e":138,"v":0.168},{"d":"0.05","e":139,"v":0.173},{"d":"0.05","e":140,"v":0.18},{"d":"0.05","e":141,"v":0.167},{"d":"0.05","e":142,"v":0.172},{"d":"0.05","e":143,"v":0.165},{"d":"0.05","e":144,"v":0.171},{"d":"0.05","e":145,"v":0.177},{"d":"0.05","e":146,"v":0.166},{"d":"0.05","e":147,"v":0.172},{"d":"0.05","e":148,"v":0.19},{"d":"0.05","e":149,"v":0.21},{"d":"0.05","e":150,"v":0.175},{"d":"0.05","e":151,"v":0.168},{"d":"0.05","e":152,"v":0.165},{"d":"0.05","e":153,"v":0.17},{"d":"0.05","e":154,"v":0.176},{"d":"0.05","e":155,"v":0.166},{"d":"0.05","e":156,"v":0.171},{"d":"0.05","e":157,"v":0.177},{"d":"0.05","e":158,"v":0.165},{"d":"0.05","e":159,"v":0.17},{"d":"0.05","e":160,"v":0.175},{"d":"0.05","e":161,"v":0.2},{"d":"0.05","e":162,"v":0.18},{"d":"0.05","e":163,"v":0.168},{"d":"0.05","e":164,"v":0.173},{"d":"0.05","e":165,"v":0.175},{"d":"0.05","e":166,"v":0.2},{"d":"0.05","e":167,"v":0.22},{"d":"0.05","e":168,"v":0.254},{"d":"0.05","e":169,"v":0.19},{"d":"0.05","e":170,"v":0.17},{"d":"0.05","e":171,"v":0.171},{"d":"0.05","e":172,"v":0.167},{"d":"0.05","e":173,"v":0.175},{"d":"0.05","e":174,"v":0.164},{"d":"0.05","e":175,"v":0.17},{"d":"0.05","e":176,"v":0.176},{"d":"0.05","e":177,"v":0.165},{"d":"0.05","e":178,"v":0.17},{"d":"0.05","e":179,"v":0.178},{"d":"0.05","e":180,"v":0.185},{"d":"0.05","e":181,"v":0.17},{"d":"0.05","e":182,"v":0.165},{"d":"0.05","e":183,"v":0.17},{"d":"0.05","e":184,"v":0.163},{"d":"0.05","e":185,"v":0.168},{"d":"0.05","e":186,"v":0.174},{"d":"0.05","e":187,"v":0.164},{"d":"0.05","e":188,"v":0.169},{"d":"0.05","e":189,"v":0.175},{"d":"0.05","e":190,"v":0.163},{"d":"0.05","e":191,"v":0.168},{"d":"0.05","e":192,"v":0.172},{"d":"0.05","e":193,"v":0.162},{"d":"0.05","e":194,"v":0.167},{"d":"0.05","e":195,"v":0.172},{"d":"0.05","e":196,"v":0.18},{"d":"0.05","e":197,"v":0.19},{"d":"0.05","e":198,"v":0.172},{"d":"0.05","e":199,"v":0.164},{"d":"0.05","e":200,"v":0.168},{"d":"0.05","e":201,"v":0.162},{"d":"0.05","e":202,"v":0.166},{"d":"0.05","e":203,"v":0.172},{"d":"0.05","e":204,"v":0.162},{"d":"0.05","e":205,"v":0.167},{"d":"0.05","e":206,"v":0.163},{"d":"0.05","e":207,"v":0.168},{"d":"0.05","e":208,"v":0.174},{"d":"0.05","e":209,"v":0.162},{"d":"0.05","e":210,"v":0.166},{"d":"0.05","e":211,"v":0.161},{"d":"0.05","e":212,"v":0.166},{"d":"0.05","e":213,"v":0.17},{"d":"0.05","e":214,"v":0.161},{"d":"0.05","e":215,"v":0.165},{"d":"0.05","e":216,"v":0.17},{"d":"0.05","e":217,"v":0.175},{"d":"0.05","e":218,"v":0.184},{"d":"0.05","e":219,"v":0.168},{"d":"0.05","e":220,"v":0.162},{"d":"0.05","e":221,"v":0.166},{"d":"0.05","e":222,"v":0.16},{"d":"0.05","e":223,"v":0.165},{"d":"0.05","e":224,"v":0.17},{"d":"0.05","e":225,"v":0.161},{"d":"0.05","e":226,"v":0.165},{"d":"0.05","e":227,"v":0.16},{"d":"0.05","e":228,"v":0.164},{"d":"0.05","e":229,"v":0.168},{"d":"0.05","e":230,"v":0.16},{"d":"0.05","e":231,"v":0.163},{"d":"0.05","e":232,"v":0.158}
]},
"data":{"name":"p"},
"mark":{"type":"line","strokeWidth":1.2,"opacity":0.85,"clip":true},
"encoding":{
"x":{"field":"e","type":"quantitative","scale":{"domain":[-25,300],"nice":false,"zero":false},"axis":{"values":[0,50,100,150,200,250,300],"title":"Epoch","labelPadding":18,"titlePadding":12}},
"y":{"field":"v","type":"quantitative","scale":{"domain":[0.1,0.9],"nice":false,"zero":false},"axis":{"values":[0.1,0.2,0.3,0.4,0.5,0.6,0.7,0.8,0.9],"format":".1f","title":"Test loss rate","labelPadding":20,"titleFontSize":22,"titleX":-50,"titleY":240,"titleAlign":"center","titleBaseline":"alphabetic","titleAngle":-90}},
"color":{"field":"d","type":"nominal","scale":{"domain":["1","0.3","0.2","0.1","0.05"],"range":["#DA55F8","#F04A4A","#3A78D6","#45AE6E","#00F2F2"]},
"legend":{"orient":"none","legendX":420,"legendY":-7,"title":"Dropout","symbolType":"M-1,0H3","symbolSize":625,"symbolStrokeWidth":1.5,"labelFont":"Times New Roman, Liberation Serif, serif","labelFontSize":18,"labelColor":"#222","titleFont":"Times New Roman, Liberation Serif, serif","titleFontSize":18,"titleFontWeight":"normal","titleColor":"#222","labelOffset":28,"rowPadding":4,"titlePadding":-5}}
}
}
